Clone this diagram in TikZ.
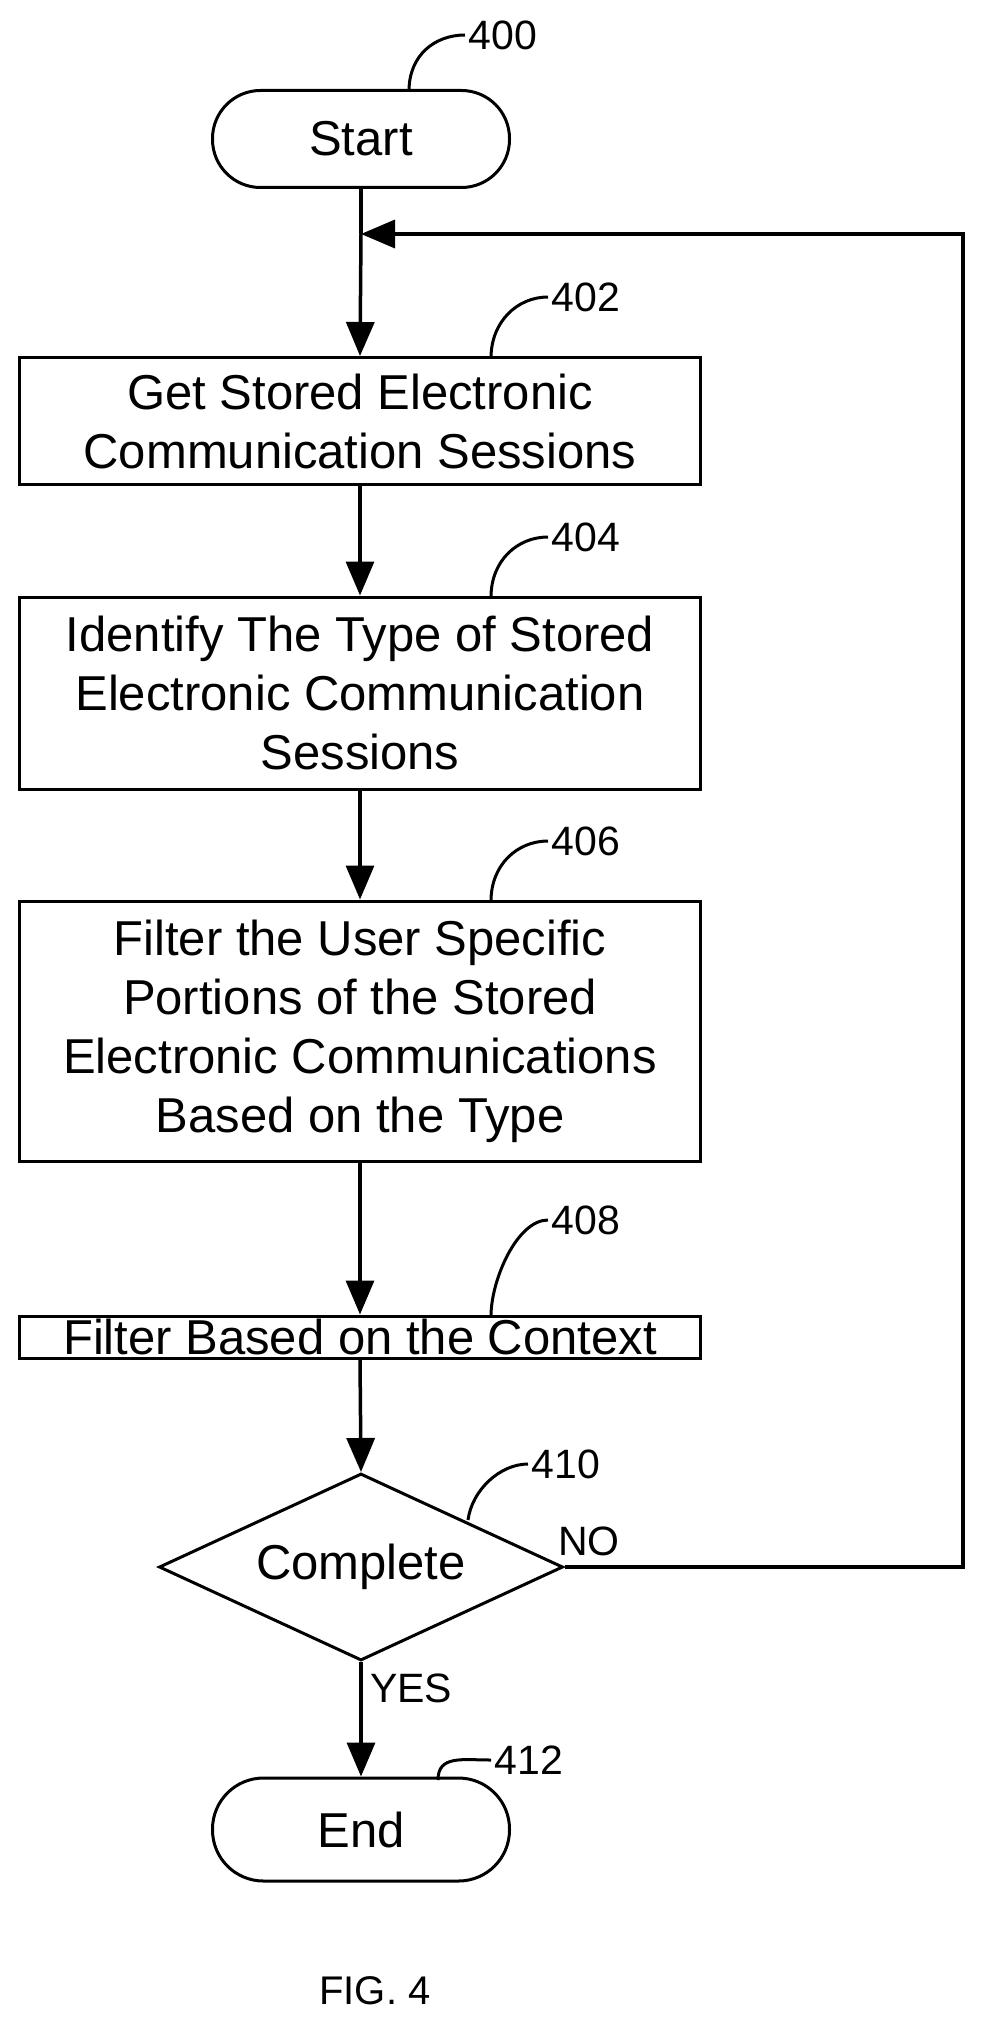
\documentclass[tikz,border=0pt]{standalone}
\usepackage{fontspec}
\setmainfont{Liberation Sans}
\usetikzlibrary{shapes.geometric,arrows.meta}
\begin{document}
\begin{tikzpicture}[x=1pt,y=-1pt,
  box/.style={draw,line width=3pt,inner sep=0pt,align=center,font=\fontsize{49}{59}\selectfont},
  term/.style={box,rounded corners=48pt},
  lbl/.style={font=\fontsize{41}{48}\selectfont,anchor=west,inner sep=2pt},
  conn/.style={line width=3.5pt,-{Triangle[length=34pt,width=28pt]}},
  lead/.style={line width=3pt}]
\useasboundingbox (0,0) rectangle (983,2025);
\node[term,minimum width=297pt,minimum height=97pt] (start) at (361,139) {Start};
\node[box,minimum width=681pt,minimum height=127pt] (b402) at (360,421) {Get Stored Electronic\\Communication Sessions};
\node[box,minimum width=681pt,minimum height=192pt] (b404) at (360,693) {Identify The Type of Stored\\Electronic Communication\\Sessions};
\node[box,minimum width=681pt,minimum height=260pt] (b406) at (360,1031) {Filter the User Specific\\Portions of the Stored\\Electronic Communications\\Based on the Type};
\node[box,minimum width=681pt,minimum height=42pt] (b408) at (360,1337) {Filter Based on the Context};
\node[draw,line width=3pt,diamond,aspect=2.16,minimum width=404pt,minimum height=187pt,inner sep=0pt,font=\fontsize{49}{59}\selectfont] (dec) at (361,1567) {Complete};
\node[term,minimum width=297pt,minimum height=103pt,rounded corners=51pt] (end) at (361,1829.5) {End};
\node[font=\fontsize{40}{48}\selectfont] (fig) at (375,1991) {FIG. 4};
% connectors
\coordinate (j) at (361,234);
\coordinate (c1) at (963,1567);
\coordinate (c2) at (963,234);
\draw[line width=3.5pt] (start.south) -- (j);
\draw[conn] (j) -- (b402.north);
\draw[conn] (b402.south) -- (b404.north);
\draw[conn] (b404.south) -- (b406.north);
\draw[conn] (b406.south) -- (b408.north);
\draw[conn] (b408.south) -- (dec.north);
\draw[conn] (dec.south) -- (end.north);
\draw[conn] (dec.east) -- (c1) -- (c2) -- (j);
\node[lbl,anchor=south west] (no) at (556,1558) {NO};
\node[lbl] (yes) at (368,1688) {YES};
% leaders
\coordinate (l400) at (409,91);
\draw[lead] (l400) .. controls (409,55) and (435,35) .. (465,35) node[lbl] (n400) {400};
\coordinate (l402) at (491,358);
\draw[lead] (l402) .. controls (491,322) and (517,297) .. (548,297) node[lbl] (n402) {402};
\coordinate (l404) at (491,597);
\draw[lead] (l404) .. controls (491,561) and (517,537) .. (548,537) node[lbl] (n404) {404};
\coordinate (l406) at (491,901);
\draw[lead] (l406) .. controls (491,865) and (517,841) .. (548,841) node[lbl] (n406) {406};
\coordinate (l408) at (491,1316);
\draw[lead] (l408) .. controls (491,1280) and (517,1220) .. (548,1220) node[lbl] (n408) {408};
\coordinate (l410) at (468,1520);
\draw[lead] (l410) .. controls (472,1490) and (500,1464) .. (528,1464) node[lbl] (n410) {410};
\coordinate (l412) at (438,1780);
\draw[lead] (l412) .. controls (438,1755) and (462,1760) .. (491,1760) node[lbl] (n412) {412};
\end{tikzpicture}
\end{document}
